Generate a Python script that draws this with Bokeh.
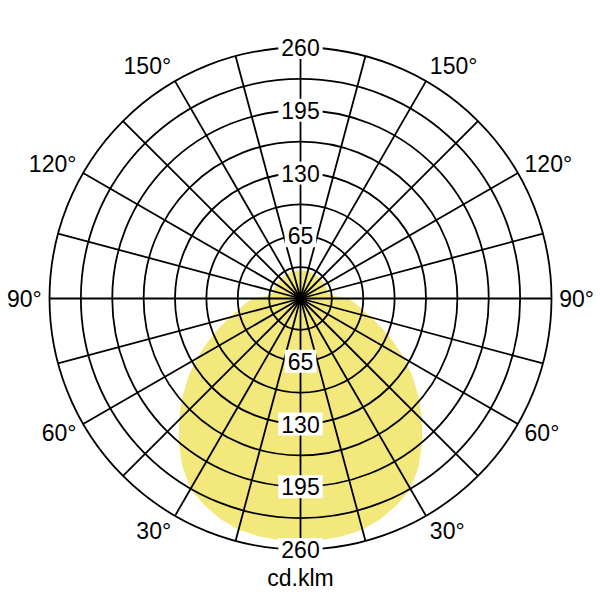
import numpy as np
from bokeh.plotting import figure
from bokeh.models import Range1d, ColumnDataSource
from bokeh.core.properties import value
from bokeh.embed import file_html
from bokeh.resources import INLINE

# ---- data ----
gamma_deg = list(range(0, 181, 5))          # angle from nadir, degrees
intensity = [251, 251, 250, 248, 243, 236, 228, 213, 196, 178, 160, 142, 124,
             106, 90, 76, 65, 57, 50, 34, 30, 29, 29, 29, 29, 29, 29, 29, 29,
             29, 29, 29, 29, 29, 29, 29, 28]   # cd/klm, symmetric C0/C180
ring_values = [32.5, 65, 97.5, 130, 162.5, 195, 227.5, 260]
ring_labels = ["65", "130", "195", "260"]
spoke_deg = list(range(0, 360, 15))
angle_ticks = [30, 60, 90, 120, 150]
unit_label = "cd.klm"

W, H = 600, 600
R_MAX = 260.0
s = 251.0 / R_MAX          # px per cd
cx_px, cy_px = 300, 298     # centre inside the frame

p = figure(width=W, height=H, output_backend="svg", toolbar_location=None,
           min_border=0,
           x_range=Range1d(-cx_px / s, (W - cx_px) / s),
           y_range=Range1d(-(H - cy_px) / s, cy_px / s))
p.axis.visible = False
p.grid.visible = False
p.outline_line_color = None
p.background_fill_color = "white"

FONT = value("Liberation Sans")

# ---- light distribution ----
g = np.radians(np.array(gamma_deg, dtype=float))
I = np.array(intensity, dtype=float)
xr = I * np.sin(g)
yr = -I * np.cos(g)
xs = np.concatenate([xr, -xr[::-1]])
ys = np.concatenate([yr, yr[::-1]])
p.patch(xs, ys, fill_color="#f2e87c", line_color=None)

# ---- grid ----
p.circle(x=[0] * len(ring_values), y=[0] * len(ring_values), radius=ring_values,
         fill_color=None, line_color="black", line_width=1.8)
sp = np.radians(np.array(spoke_deg, dtype=float))
p.segment(x0=0, y0=0, x1=R_MAX * np.sin(sp), y1=-R_MAX * np.cos(sp),
          line_color="black", line_width=1.8)

# ---- radial value labels (top and bottom) ----
lab_vals = [float(v) for v in ring_labels]
src = ColumnDataSource(dict(
    x=[0.0] * (2 * len(lab_vals)),
    y=lab_vals + [-v for v in lab_vals],
    t=ring_labels + ring_labels))
p.text(x="x", y="y", text="t", source=src, text_align="center",
       text_baseline="middle", text_font=FONT, text_font_size="23px",
       text_color="black", background_fill_color="white",
       padding=3)

# ---- angle labels ----
rx, ry = 268.0, 278.0
a = np.radians(np.array(angle_ticks, dtype=float))
txt = [f"{d}°" for d in angle_ticks]
p.text(x=list(-rx * np.sin(a)), y=list(-ry * np.cos(a)), text=txt,
       text_align="right", text_baseline="middle", text_font=FONT,
       text_font_size="23px", text_color="black")
p.text(x=list(rx * np.sin(a)), y=list(-ry * np.cos(a)), text=txt,
       text_align="left", text_baseline="middle", text_font=FONT,
       text_font_size="23px", text_color="black")

# ---- unit ----
p.text(x=[0], y=[-290], text=[unit_label], text_align="center",
       text_baseline="middle", text_font=FONT, text_font_size="23px",
       text_color="black")

open("out.html", "w").write(file_html(p, INLINE))
